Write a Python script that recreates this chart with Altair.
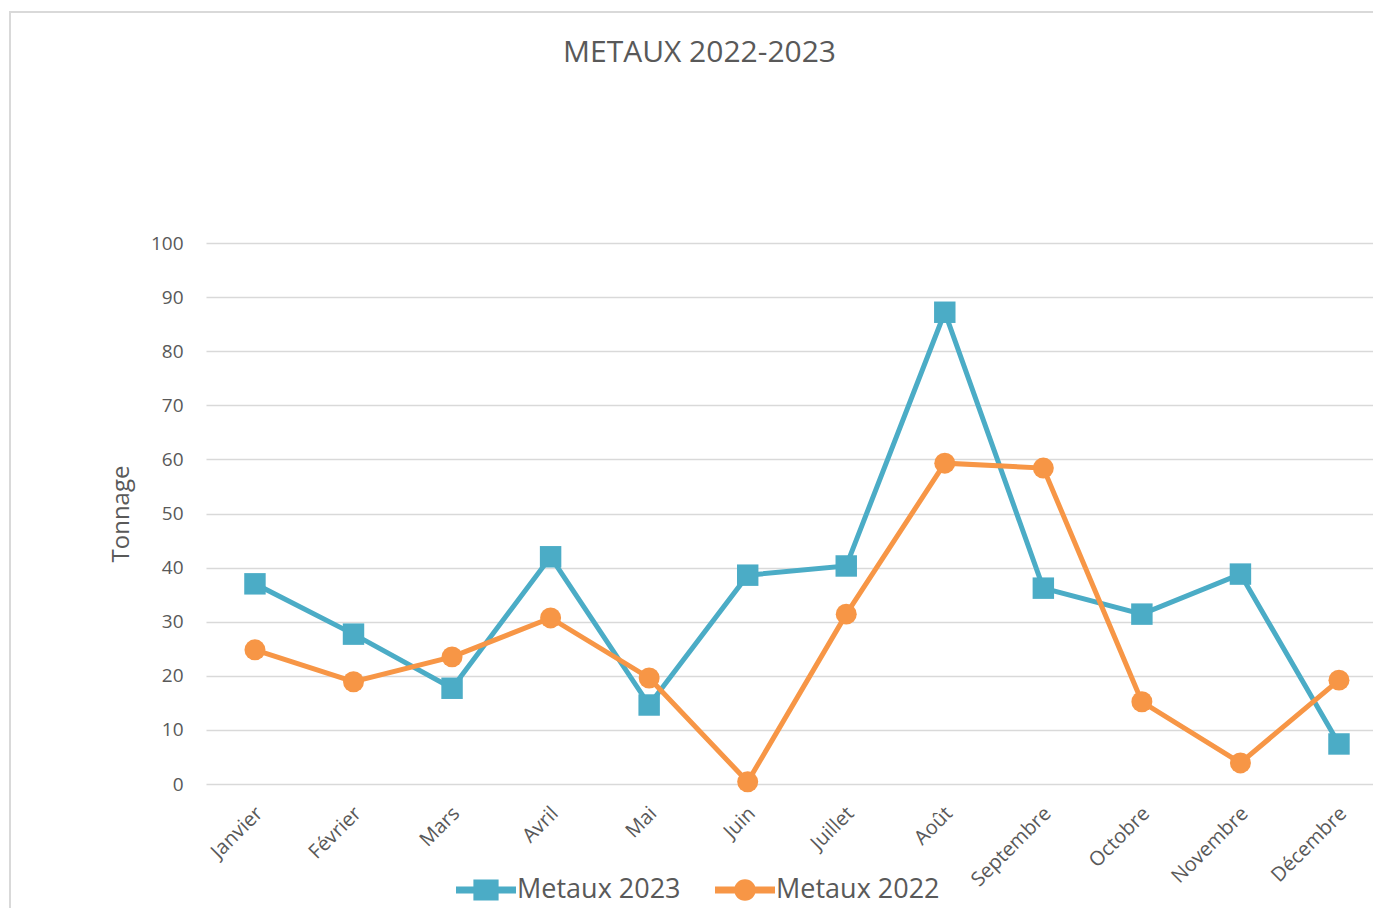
import altair as alt
import pandas as pd

mois = ["Janvier", "Février", "Mars", "Avril", "Mai", "Juin", "Juillet",
        "Août", "Septembre", "Octobre", "Novembre", "Décembre"]
metaux_2023 = [37.0, 27.7, 17.7, 42.0, 14.6, 38.6, 40.3, 87.2, 36.2, 31.4, 38.8, 7.4]
metaux_2022 = [24.8, 18.9, 23.5, 30.7, 19.6, 0.4, 31.4, 59.3, 58.4, 15.2, 3.9, 19.2]
series = ["Metaux 2023", "Metaux 2022"]
couleurs = ["#4BACC6", "#F79646"]
y_ticks = list(range(0, 101, 10))

rows = []
for i, m in enumerate(mois):
    rows.append({"mois": m, "serie": series[0], "tonnage": metaux_2023[i]})
    rows.append({"mois": m, "serie": series[1], "tonnage": metaux_2022[i]})
df = pd.DataFrame(rows)

FONT = "Open Sans"
TXT = "#595959"
GRID = "#D9D9D9"
W, H = 1167, 541

x_enc = alt.X(
    "mois:N", sort=mois,
    scale=alt.Scale(type="point", padding=0.421, align=0.59),
    axis=alt.Axis(title=None, labelAngle=-45, labelFont=FONT, labelFontSize=20,
                  labelColor=TXT, ticks=False, domain=False, grid=False,
                  labelPadding=26, labelOffset=4, labelAlign="right",
                  labelBaseline="middle"),
)
y_enc = alt.Y(
    "tonnage:Q",
    scale=alt.Scale(domain=[0, 100], nice=False),
    axis=alt.Axis(values=y_ticks, title="Tonnage", grid=True, gridColor=GRID,
                  gridWidth=1.5, domain=False, ticks=False, labelPadding=23,
                  labelFont=FONT, labelFontSize=19, labelColor=TXT,
                  titleFont=FONT, titleFontSize=24, titleColor=TXT,
                  titleFontWeight="normal", titleX=-85, titleY=H / 2,
                  titleAngle=270, titleAlign="center", titleBaseline="middle"),
)

base = alt.Chart(df)

line23 = base.transform_filter(alt.datum.serie == series[0]).mark_line(
    color=couleurs[0], strokeWidth=5).encode(x=x_enc, y=y_enc)
pts23 = base.transform_filter(alt.datum.serie == series[0]).mark_point(
    shape="square", filled=True, size=460, color=couleurs[0], opacity=1).encode(x=x_enc, y=y_enc)
line22 = base.transform_filter(alt.datum.serie == series[1]).mark_line(
    color=couleurs[1], strokeWidth=5).encode(x=x_enc, y=y_enc)
pts22 = base.transform_filter(alt.datum.serie == series[1]).mark_point(
    shape="circle", filled=True, size=440, color=couleurs[1], opacity=1).encode(x=x_enc, y=y_enc)

path_sq = "M-1,-0.12H1V0.12H-1Z M-0.42,-0.35H0.42V0.35H-0.42Z"
path_ci = "M-1,-0.12H1V0.12H-1Z M0.36,0A0.36,0.36 0 1,1 -0.36,0A0.36,0.36 0 1,1 0.36,0Z"

leg_params = dict(title=None, orient="none", legendX=250, legendY=617,
                  direction="horizontal", columns=2, columnPadding=34,
                  labelOffset=1, symbolSize=3600, symbolStrokeWidth=0,
                  symbolOpacity=1, labelFont=FONT, labelFontSize=27,
                  labelColor=TXT, labelLimit=0, padding=0)

legend_layer = base.mark_point(filled=True, opacity=0).encode(
    x=x_enc, y=y_enc,
    fill=alt.Fill("serie:N", scale=alt.Scale(domain=series, range=couleurs),
                  legend=alt.Legend(**leg_params)),
    shape=alt.Shape("serie:N", scale=alt.Scale(domain=series, range=[path_sq, path_ci]),
                    legend=alt.Legend(**leg_params)),
)

frame = alt.Chart(pd.DataFrame({"k": [0]})).mark_rect(
    fill="transparent", stroke=GRID, strokeWidth=2).encode(
    x=alt.value(-196), x2=alt.value(W + 40), y=alt.value(-231), y2=alt.value(H + 200))

chart = alt.layer(frame, line23, pts23, line22, pts22, legend_layer).properties(
    width=W, height=H,
    background="white",
    title=alt.TitleParams("METAUX 2022-2023", font=FONT, fontSize=30, color=TXT,
                          fontWeight="normal", anchor="middle", frame="group",
                          dx=-90, offset=0, dy=81, baseline="alphabetic"),
    autosize=alt.AutoSizeParams(type="none"),
    padding={"left": 198, "top": 235, "right": 0, "bottom": 124},
).configure_view(strokeWidth=0, stroke="transparent")

chart.save("out.html", embed_options={"renderer": "svg", "actions": False})
